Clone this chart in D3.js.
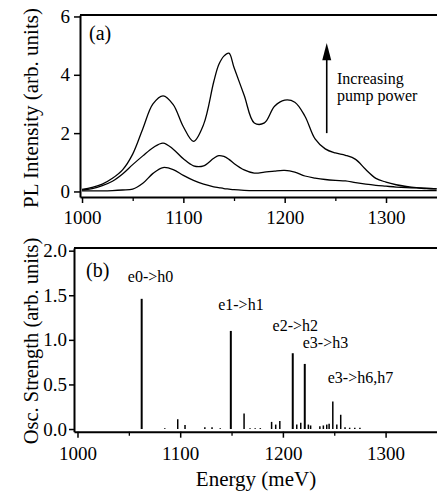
<!DOCTYPE html>
<html>
<head>
<meta charset="utf-8">
<script src="https://cdn.jsdelivr.net/npm/d3@7"></script>
<style>
  html, body { margin: 0; padding: 0; background: #fff; }
  svg { display: block; }
</style>
</head>
<body>
<svg id="chart" width="437" height="491" font-family="Liberation Serif"></svg>
<script>
// ---------------- DATA ----------------
// Panel (a): PL spectra at three pump powers
const plEnergy = [1000,1010,1020,1030,1040,1050,1060,1070,1080,1090,1100,1110,1120,1130,1135,1140,1145,1150,1160,1170,1180,1190,1200,1210,1220,1230,1240,1250,1260,1270,1280,1290,1300,1310,1320,1330,1340,1350];
const plHigh   = [0.07,0.14,0.25,0.45,0.74,1.28,2.15,3.0,3.28,2.98,2.22,1.72,2.3,3.76,4.35,4.64,4.74,4.25,3.3,2.35,2.35,2.92,3.13,3.06,2.58,1.8,1.46,1.32,1.24,1.1,0.75,0.45,0.32,0.23,0.17,0.13,0.11,0.09];
const plMid    = [0.05,0.1,0.2,0.35,0.6,0.92,1.22,1.5,1.66,1.45,1.12,0.88,0.88,1.14,1.23,1.2,1.1,0.96,0.74,0.63,0.66,0.7,0.72,0.66,0.53,0.46,0.41,0.38,0.36,0.3,0.25,0.21,0.18,0.15,0.13,0.12,0.1,0.09];
const plLow    = [0.02,0.02,0.02,0.03,0.05,0.08,0.28,0.62,0.82,0.75,0.55,0.38,0.25,0.16,0.13,0.1,0.08,0.06,0.04,0.03,0.03,0.03,0.03,0.03,0.03,0.03,0.03,0.03,0.03,0.03,0.03,0.03,0.03,0.03,0.03,0.03,0.03,0.03];
const plXTicks = [1000,1100,1200,1300];
const plXMinor = [1050,1150,1250];
const plYTicks = [0,2,4,6];

// Panel (b): calculated oscillator strengths
const oscEnergy   = [1062.5,1085,1097.6,1104.7,1124,1131,1139,1149.3,1162.2,1168,1173,1178,1189,1193,1197,1209.6,1213.5,1217.4,1221.3,1224.8,1227,1236,1239.4,1242.7,1245,1248.6,1252.5,1256.3,1260.5,1265,1270,1275];
const oscStrength = [1.46,0.01,0.11,0.045,0.02,0.02,0.01,1.10,0.175,0.01,0.01,0.01,0.08,0.05,0.09,0.85,0.05,0.07,0.73,0.05,0.04,0.03,0.04,0.05,0.06,0.31,0.05,0.16,0.02,0.015,0.015,0.015];
const oscLabels      = ["e0->h0","e1->h1","e2->h2","e3->h3","e3->h6,h7"];
const oscLabelEnergy = [1049,1137,1190,1219.3,1243.7];
const oscLabelValue  = [1.65,1.33,1.10,0.905,0.52];
const oscXTicks = [1000,1100,1200,1300];
const oscXMinor = [1050,1150,1250];
const oscYTicks = [0,0.5,1.0,1.5,2.0];

// ---------------- DRAW ----------------
const FONT = "Liberation Serif";
const svg = d3.select("#chart");
const W = 437;

function styleAxis(g, size) {
  g.attr("font-family", FONT);
  g.select(".domain").attr("stroke", "#000").attr("stroke-width", 2);
  g.selectAll(".tick line").attr("stroke", "#000").attr("stroke-width", 1.5);
  g.selectAll(".tick text").attr("font-family", FONT).attr("font-size", size).attr("fill", "#000");
}
function txt(g, x, y, size, s) {
  return g.append("text").attr("x", x).attr("y", y).attr("font-family", FONT)
    .attr("font-size", size).attr("fill", "#000").text(s);
}

// ---- Panel (a)
const ax = d3.scaleLinear().domain([998, 1352]).range([80, 438.7]);
const ay = d3.scaleLinear().domain([-0.19, 6.05]).range([197, 15]);

const gA = svg.append("g");
gA.append("line").attr("x1", 80).attr("x2", W).attr("y1", 15).attr("y2", 15)
  .attr("stroke", "#000").attr("stroke-width", 2);

const axB = gA.append("g").attr("transform", "translate(0,197)")
  .call(d3.axisBottom(ax).tickValues(plXTicks).tickFormat(d3.format("d")).tickSize(6).tickPadding(8).tickSizeOuter(0));
styleAxis(axB, 19);
gA.append("g").attr("transform", "translate(0,197)")
  .call(d3.axisBottom(ax).tickValues(plXMinor).tickFormat("").tickSize(4).tickSizeOuter(0))
  .call(g => { g.select(".domain").remove(); g.selectAll("line").attr("stroke", "#000").attr("stroke-width", 1.3); });

const axL = gA.append("g").attr("transform", "translate(80,0)")
  .call(d3.axisLeft(ay).tickValues(plYTicks).tickFormat(d3.format("d")).tickSize(6).tickPadding(4).tickSizeOuter(0));
styleAxis(axL, 19);

const line = d3.line().x((d, i) => ax(plEnergy[i])).y(d => ay(d)).curve(d3.curveCatmullRom.alpha(0.5));
[plHigh, plMid, plLow].forEach(s => {
  gA.append("path").attr("d", line(s)).attr("fill", "none").attr("stroke", "#000").attr("stroke-width", 1.3);
});

txt(gA, 89, 40, 20, "(a)");

// arrow
const arrX = ax(1241.5);
gA.append("line").attr("x1", arrX).attr("x2", arrX).attr("y1", ay(2.0)).attr("y2", ay(4.6))
  .attr("stroke", "#000").attr("stroke-width", 1.6);
gA.append("path")
  .attr("d", `M${arrX},${ay(5.09)} L${arrX - 4.5},${ay(4.5)} L${arrX + 4.5},${ay(4.5)} Z`)
  .attr("fill", "#000");
txt(gA, 337, 83.5, 16, "Increasing");
txt(gA, 337, 100.5, 16, "pump power");

txt(gA, 0, 0, 21, "PL Intensity (arb. units)")
  .attr("transform", "translate(38,108) rotate(-90)").attr("text-anchor", "middle");

// ---- Panel (b)
const bx = d3.scaleLinear().domain([996.6, 1352]).range([74, 439]);
const by = d3.scaleLinear().domain([-0.03, 2.03]).range([431.7, 248]);

const gB = svg.append("g");
gB.append("line").attr("x1", 74).attr("x2", W).attr("y1", 248).attr("y2", 248)
  .attr("stroke", "#000").attr("stroke-width", 2);

const bxA = gB.append("g").attr("transform", "translate(0,431.7)")
  .call(d3.axisBottom(bx).tickValues(oscXTicks).tickFormat(d3.format("d")).tickSize(6).tickPadding(9).tickSizeOuter(0));
styleAxis(bxA, 19);
gB.append("g").attr("transform", "translate(0,431.7)")
  .call(d3.axisBottom(bx).tickValues(oscXMinor).tickFormat("").tickSize(4).tickSizeOuter(0))
  .call(g => { g.select(".domain").remove(); g.selectAll("line").attr("stroke", "#000").attr("stroke-width", 1.3); });

const byA = gB.append("g").attr("transform", "translate(74,0)")
  .call(d3.axisLeft(by).tickValues(oscYTicks).tickFormat(d3.format(".1f")).tickSize(5).tickPadding(2).tickSizeOuter(0));
styleAxis(byA, 19);

gB.selectAll("line.bar").data(oscStrength).enter().append("line")
  .attr("class", "bar")
  .attr("x1", (d, i) => bx(oscEnergy[i])).attr("x2", (d, i) => bx(oscEnergy[i]))
  .attr("y1", by(0)).attr("y2", d => by(d))
  .attr("stroke", "#000").attr("stroke-width", d => d > 0.5 ? 2 : 1.5);

gB.selectAll("text.lab").data(oscLabels).enter().append("text")
  .attr("class", "lab")
  .attr("x", (d, i) => bx(oscLabelEnergy[i])).attr("y", (d, i) => by(oscLabelValue[i]))
  .attr("font-family", FONT).attr("font-size", 16).attr("fill", "#000").text(d => d);

txt(gB, 86, 277, 20, "(b)");

txt(gB, 0, 0, 20.5, "Osc. Strength (arb. units)")
  .attr("transform", "translate(38,341) rotate(-90)").attr("text-anchor", "middle");

txt(gB, 256, 486, 21, "Energy (meV)").attr("text-anchor", "middle");
</script>
</body>
</html>
